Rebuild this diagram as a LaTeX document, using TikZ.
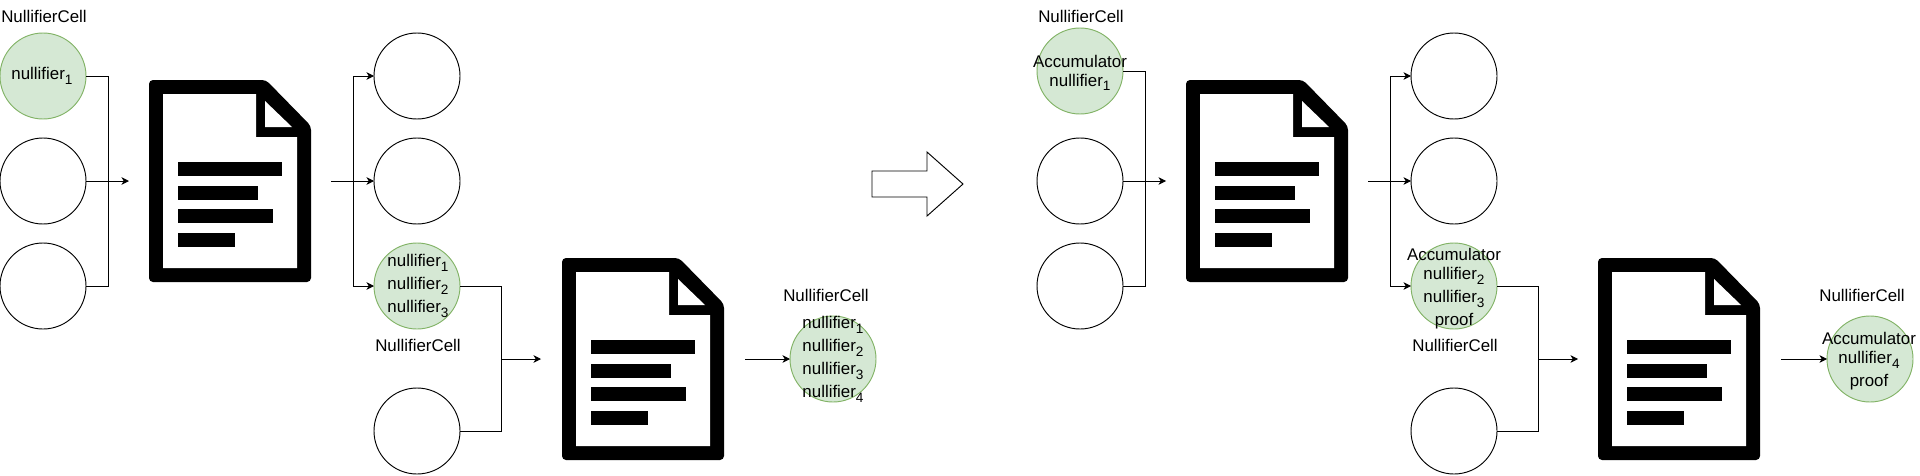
\documentclass[tikz,border=0pt]{standalone}
\usepackage{fontspec}
\setmainfont{Liberation Sans}
\usetikzlibrary{arrows.meta}
\definecolor{cellstroke}{RGB}{130,179,102}
\definecolor{cellfill}{RGB}{213,232,212}
\newcommand{\sbn}[1]{\raisebox{-3.2pt}{\fontsize{10.2}{10.2}\selectfont #1}}
\tikzset{
  x=0.75pt,y=-0.75pt,
  cellplain/.style={circle,draw=black,fill=white,line width=0.7pt,minimum size=64.5pt,inner sep=0pt,outer sep=0pt},
  cellgreen/.style={circle,draw=cellstroke,fill=cellfill,line width=0.7pt,minimum size=64.5pt,inner sep=0pt,outer sep=0pt},
  celltext/.style={align=center,inner sep=0pt,font=\fontsize{12.67}{17.25}\selectfont,text=black},
  conn/.style={draw=black,line width=0.7pt},
  connarrow/.style={conn,-{Stealth[length=5.6pt,width=5.6pt,inset=1.6pt]}},
  bigarrow/.style={draw=black,fill=white,line width=0.7pt,line join=miter},
  docicon/.pic={
    \fill[black,rounded corners=3pt] (0,0) -- (117,0) -- (162,46) -- (162,202) -- (0,202) -- cycle;
    \fill[white] (14,14) -- (107,14) -- (107,57) -- (148,57) -- (148,188) -- (14,188) -- cycle;
    \fill[white] (116,21) -- (143,47) -- (116,47) -- cycle;
    \fill[black] (29,82) rectangle (133,96);
    \fill[black] (29,106) rectangle (109,120);
    \fill[black] (29,129) rectangle (124,143);
    \fill[black] (29,153) rectangle (86,167);
  }
}
\begin{document}
\begin{tikzpicture}
\useasboundingbox (0,0) rectangle (1920,475);
% left half: first stage
\node[cellgreen] (a1) at (43,76) {};
\node[cellplain] (a2) at (43,181) {};
\node[cellplain] (a3) at (43,286) {};
\node[celltext] (ta0) at (44,16) {NullifierCell};
\node[celltext] (ta1) at (42,76) {nullifier\sbn{1}};
\pic at (149,80) {docicon};
\coordinate (ja) at (108,181);
\coordinate (ia) at (129,181);
\draw[conn] (a1.east) -| (ja);
\draw[conn] (a3.east) -| (ja);
\draw[connarrow] (a2.east) -- (ia);
\node[cellplain] (b1) at (417,76) {};
\node[cellplain] (b2) at (417,181) {};
\node[cellgreen] (b3) at (417,286) {};
\node[cellplain] (b4) at (417,431) {};
\coordinate (ob) at (331,181);
\coordinate (jb) at (353,181);
\draw[connarrow] (ob) -- (b2.west);
\draw[connarrow] (jb) |- (b1.west);
\draw[connarrow] (jb) |- (b3.west);
\node[celltext] (tb3) at (418,286) {nullifier\sbn{1}\\nullifier\sbn{2}\\nullifier\sbn{3}};
\node[celltext] (tb0) at (418,345) {NullifierCell};
\pic at (562,258) {docicon};
\coordinate (jc) at (501,359);
\coordinate (ic) at (541,359);
\draw[conn] (b3.east) -| (jc);
\draw[conn] (b4.east) -| (jc);
\draw[connarrow] (jc) -- (ic);
\coordinate (oc) at (745,359);
\node[cellgreen] (c1) at (833,359) {};
\draw[connarrow] (oc) -- (c1.west);
\node[celltext] (tc0) at (826,295) {NullifierCell};
\node[celltext] (tc1) at (833,359.5) {nullifier\sbn{1}\\nullifier\sbn{2}\\nullifier\sbn{3}\\nullifier\sbn{4}};
% big arrow
\draw[bigarrow] (872,171) -- (927,171) -- (927,152) -- (963,184) -- (927,216) -- (927,197) -- (872,197) -- cycle;
% right half
\node[cellgreen] (d1) at (1080,71) {};
\node[cellplain] (d2) at (1080,181) {};
\node[cellplain] (d3) at (1080,286) {};
\node[celltext] (td0) at (1081,16) {NullifierCell};
\node[celltext] (td1) at (1080,73) {Accumulator\\[-3pt]nullifier\sbn{1}};
\pic at (1186,80) {docicon};
\coordinate (jd) at (1145,181);
\coordinate (id) at (1166,181);
\draw[conn] (d1.east) -| (jd);
\draw[conn] (d3.east) -| (jd);
\draw[connarrow] (d2.east) -- (id);
\node[cellplain] (e1) at (1454,76) {};
\node[cellplain] (e2) at (1454,181) {};
\node[cellgreen] (e3) at (1454,286) {};
\node[cellplain] (e4) at (1454,431) {};
\coordinate (oe) at (1368,181);
\coordinate (je) at (1390,181);
\draw[connarrow] (oe) -- (e2.west);
\draw[connarrow] (je) |- (e1.west);
\draw[connarrow] (je) |- (e3.west);
\node[celltext] (te3) at (1454,289) {Accumulator\\[-3pt]nullifier\sbn{2}\\nullifier\sbn{3}\\proof};
\node[celltext] (te0) at (1455,345) {NullifierCell};
\pic at (1598,258) {docicon};
\coordinate (jf) at (1538,359);
\coordinate (if) at (1578,359);
\draw[conn] (e3.east) -| (jf);
\draw[conn] (e4.east) -| (jf);
\draw[connarrow] (jf) -- (if);
\coordinate (of) at (1781,359);
\node[cellgreen] (f1) at (1870,359) {};
\draw[connarrow] (of) -- (f1.west);
\node[celltext] (tf0) at (1862,295) {NullifierCell};
\node[celltext] (tf1) at (1869,361.5) {Accumulator\\[-3pt]nullifier\sbn{4}\\proof};
\end{tikzpicture}
\end{document}
